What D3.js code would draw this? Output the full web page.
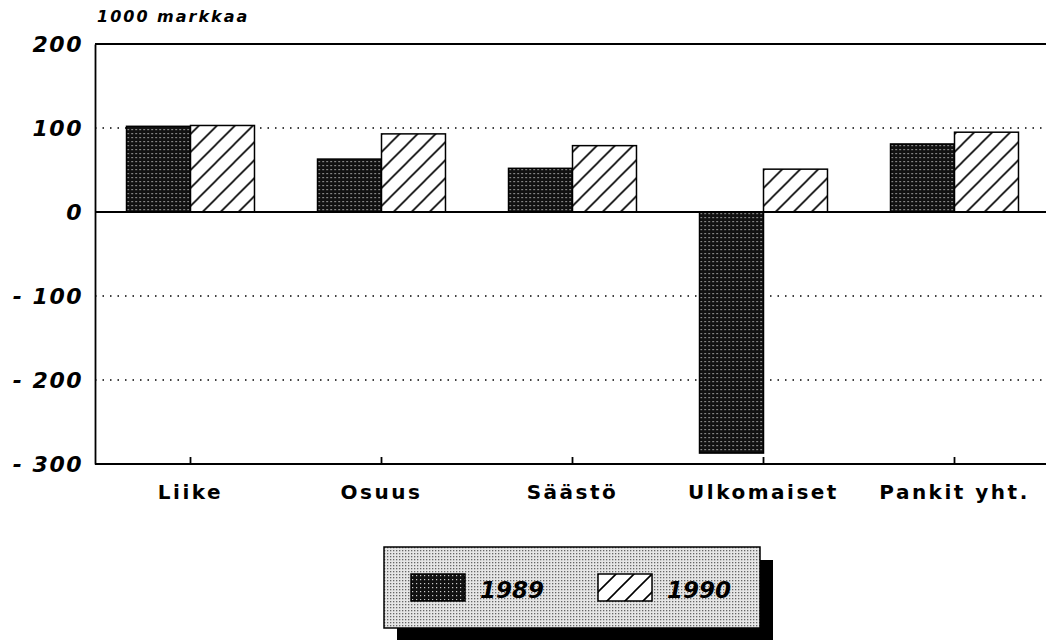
<!DOCTYPE html>
<html lang="fi">
<head>
  <meta charset="UTF-8">
  <script src="https://cdn.jsdelivr.net/npm/d3@7"></script>
  <title>Pankit</title>
  <style>
    body { margin: 0; background: #fff; }
    text { font-family: "DejaVu Sans", "Liberation Sans", sans-serif; font-weight: bold; }
  </style>
</head>
<body>
  <script>
    var categories = ['Liike', 'Osuus', 'Säästö', 'Ulkomaiset', 'Pankit yht.'];
    var series = ['1989', '1990'];
    var values1989 = [102, 63, 52, -287, 81];
    var values1990 = [103, 93, 79, 51, 95];
    var yTicks = [200, 100, 0, -100, -200, -300];
    var gridTicks = [100, -100, -200];

    var width = 1046, height = 640;
    var mLeft = 95, mRight = 1050, mTop = 44, mBottom = 464;
    var font = '"DejaVu Sans", "Liberation Sans", sans-serif';

    var svg = d3.select('body').append('svg')
      .attr('width', width)
      .attr('height', height);

    // patterns
    var defs = svg.append('defs');
    var dots = defs.append('pattern')
      .attr('id', 'dots')
      .attr('width', 4).attr('height', 4)
      .attr('patternUnits', 'userSpaceOnUse');
    dots.append('rect').attr('width', 4).attr('height', 4).attr('fill', '#111');
    dots.append('rect').attr('x', 1).attr('y', 1).attr('width', 1.2).attr('height', 1.2).attr('fill', '#ccc');

    var hatch = defs.append('pattern')
      .attr('id', 'hatch')
      .attr('width', 18).attr('height', 18)
      .attr('patternUnits', 'userSpaceOnUse');
    hatch.append('rect').attr('width', 18).attr('height', 18).attr('fill', '#fff');
    hatch.append('path').attr('d', 'M-2,20 L20,-2 M-2,2 L2,-2 M16,20 L20,16')
      .attr('stroke', '#000').attr('stroke-width', 1.6);

    var grey = defs.append('pattern')
      .attr('id', 'grey')
      .attr('width', 3).attr('height', 3)
      .attr('patternUnits', 'userSpaceOnUse');
    grey.append('rect').attr('width', 3).attr('height', 3).attr('fill', '#e6e6e6');
    grey.append('rect').attr('width', 1.3).attr('height', 1.3).attr('fill', '#666');

    var x = d3.scaleBand()
      .domain(categories)
      .range([mLeft, mRight])
      .paddingInner(0.33)
      .paddingOuter(0.165);

    var xs = d3.scaleBand()
      .domain(series)
      .range([0, x.bandwidth()]);

    var y = d3.scaleLinear()
      .domain([-300, 200])
      .range([mBottom, mTop]);

    // dotted grid
    svg.selectAll('.grid')
      .data(gridTicks)
      .enter().append('line')
      .attr('x1', mLeft).attr('x2', width)
      .attr('y1', function(d) { return y(d); })
      .attr('y2', function(d) { return y(d); })
      .attr('stroke', '#000')
      .attr('stroke-width', 1.5)
      .attr('stroke-dasharray', '1.5,6');

    // bars
    var data = categories.map(function(c, i) {
      return {cat: c, vals: [
        {s: '1989', v: values1989[i]},
        {s: '1990', v: values1990[i]}
      ]};
    });

    var g = svg.selectAll('.grp')
      .data(data)
      .enter().append('g')
      .attr('transform', function(d) { return 'translate(' + x(d.cat) + ',0)'; });

    g.selectAll('rect')
      .data(function(d) { return d.vals; })
      .enter().append('rect')
      .attr('x', function(d) { return xs(d.s); })
      .attr('width', xs.bandwidth())
      .attr('y', function(d) { return y(Math.max(0, d.v)); })
      .attr('height', function(d) { return Math.abs(y(d.v) - y(0)); })
      .attr('fill', function(d) { return d.s === '1989' ? 'url(#dots)' : 'url(#hatch)'; })
      .attr('stroke', '#000')
      .attr('stroke-width', 1.5);

    // frame lines
    [200, 0, -300].forEach(function(v) {
      svg.append('line')
        .attr('x1', mLeft).attr('x2', width)
        .attr('y1', y(v)).attr('y2', y(v))
        .attr('stroke', '#000').attr('stroke-width', 1.8);
    });

    // y axis
    var yAxis = svg.append('g')
      .attr('transform', 'translate(' + mLeft + ',0)')
      .call(d3.axisLeft(y).tickValues(yTicks).tickSize(0).tickPadding(12)
        .tickFormat(function(d) { return d < 0 ? '- ' + Math.abs(d) : d; }));
    yAxis.select('.domain').attr('stroke', '#000').attr('stroke-width', 1.8);
    yAxis.selectAll('text')
      .attr('font-size', 22)
      .attr('font-style', 'italic')
      .attr('font-family', font)
      .attr('font-weight', 'bold')
      .attr('letter-spacing', 1.5)
      .attr('fill', '#000');

    // x axis
    var xAxis = svg.append('g')
      .attr('transform', 'translate(0,' + mBottom + ')')
      .call(d3.axisBottom(x).tickSize(-7).tickPadding(21));
    xAxis.select('.domain').remove();
    xAxis.selectAll('line').attr('stroke', '#000').attr('stroke-width', 1.8);
    xAxis.selectAll('text')
      .attr('font-size', 20)
      .attr('font-family', font)
      .attr('font-weight', 'bold')
      .attr('letter-spacing', 2.5)
      .attr('fill', '#000');

    // unit title
    svg.append('text')
      .attr('x', 97).attr('y', 22)
      .attr('font-size', 16)
      .attr('font-style', 'italic')
      .attr('letter-spacing', 2)
      .text('1000 markkaa');

    // legend
    var lg = svg.append('g').attr('transform', 'translate(384,547)');
    lg.append('rect')
      .attr('x', 13).attr('y', 13)
      .attr('width', 376).attr('height', 81)
      .attr('fill', '#000');
    lg.append('rect')
      .attr('width', 376).attr('height', 81)
      .attr('fill', 'url(#grey)')
      .attr('stroke', '#000').attr('stroke-width', 1.5);

    var items = lg.selectAll('.item')
      .data(series)
      .enter().append('g')
      .attr('transform', function(d, i) { return 'translate(' + (27 + i * 187) + ',27)'; });
    items.append('rect')
      .attr('width', 54).attr('height', 27)
      .attr('fill', function(d) { return d === '1989' ? 'url(#dots)' : 'url(#hatch)'; })
      .attr('stroke', '#000').attr('stroke-width', 1.5);
    items.append('text')
      .attr('x', 69).attr('y', 24)
      .attr('font-size', 23)
      .attr('font-style', 'italic')
      .text(function(d) { return d; });
  </script>
</body>
</html>
